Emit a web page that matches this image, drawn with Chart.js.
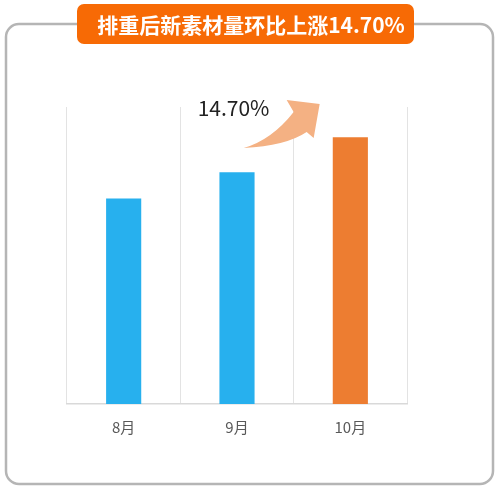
<!DOCTYPE html>
<html>
<head>
<meta charset="utf-8">
<script src="https://cdn.jsdelivr.net/npm/chart.js@4"></script>
<style>
  html, body { margin: 0; padding: 0; background: #fff; }
  #wrap { width: 501px; height: 491px; position: relative; }
</style>
</head>
<body>
<div id="wrap"><canvas id="myChart"></canvas></div>
<script>
// chart data
var months = ['8月', '9月', '10月'];
var amounts = [69.2, 78.0, 89.8];
var barColors = ['#27b0ee', '#27b0ee', '#ed7d31'];
var titleText = '排重后新素材量环比上涨14.70%';
var growthLabel = '14.70%';

var cjk = '"Noto Sans CJK SC", "Noto Sans", sans-serif';

// frame + orange title badge, drawn behind the chart
var framePlugin = {
  id: 'frame',
  beforeDraw: function (chart) {
    var ctx = chart.ctx;
    ctx.save();
    // outer rounded box
    ctx.strokeStyle = '#b5b5b5';
    ctx.lineWidth = 2.5;
    ctx.beginPath();
    ctx.roundRect(6, 24, 487, 460, 13);
    ctx.stroke();
    // badge
    ctx.fillStyle = '#f76a05';
    ctx.beginPath();
    ctx.roundRect(77, 4, 337, 40, 7);
    ctx.fill();
    ctx.fillStyle = '#ffffff';
    ctx.font = 'bold 21px ' + cjk;
    ctx.textAlign = 'center';
    ctx.textBaseline = 'middle';
    ctx.fillText(titleText, 251, 25);
    ctx.restore();
  },
  afterDraw: function (chart) {
    var ctx = chart.ctx;
    var x = chart.scales.x;
    var area = chart.chartArea;
    // anchor the decoration between the 9月 and 10月 columns
    var mid = (x.getPixelForValue(1) + x.getPixelForValue(2)) / 2;
    var top = area.top;
    ctx.save();
    ctx.fillStyle = '#222';
    ctx.font = '21px ' + cjk;
    ctx.textAlign = 'left';
    ctx.textBaseline = 'middle';
    ctx.fillText(growthLabel, mid - 96, top + 1);

    // curved arrow
    ctx.fillStyle = '#f4b183';
    ctx.beginPath();
    ctx.moveTo(mid - 50, top + 41);
    ctx.quadraticCurveTo(mid - 22, top + 33, mid + 0, top + 5);
    ctx.lineTo(mid - 7, top - 7);
    ctx.lineTo(mid + 26, top - 3);
    ctx.lineTo(mid + 20, top + 31);
    ctx.lineTo(mid + 13, top + 25);
    ctx.quadraticCurveTo(mid - 8, top + 39, mid - 50, top + 41);
    ctx.closePath();
    ctx.fill();
    ctx.restore();
  }
};

var canvas = document.getElementById('myChart');
var chart = new Chart(canvas, {
  type: 'bar',
  data: {
    labels: months,
    datasets: [{
      data: amounts,
      backgroundColor: barColors,
      borderWidth: 0,
      barPercentage: 0.31,
      categoryPercentage: 1.0
    }]
  },
  options: {
    responsive: true,
    maintainAspectRatio: false,
    animation: false,
    layout: { padding: { left: 67, right: 94, top: 107, bottom: 41 } },
    plugins: {
      legend: { display: false },
      tooltip: { enabled: false },
      title: { display: false }
    },
    scales: {
      x: {
        offset: true,
        grid: { offset: true, color: '#e3e3e3', lineWidth: 1, drawTicks: false },
        border: { color: '#d9d9d9', width: 1.5 },
        ticks: { color: '#595959', font: { size: 15, family: cjk }, padding: 14 }
      },
      y: {
        display: false,
        min: 0,
        max: 100
      }
    }
  },
  plugins: [framePlugin]
});
</script>
</body>
</html>
